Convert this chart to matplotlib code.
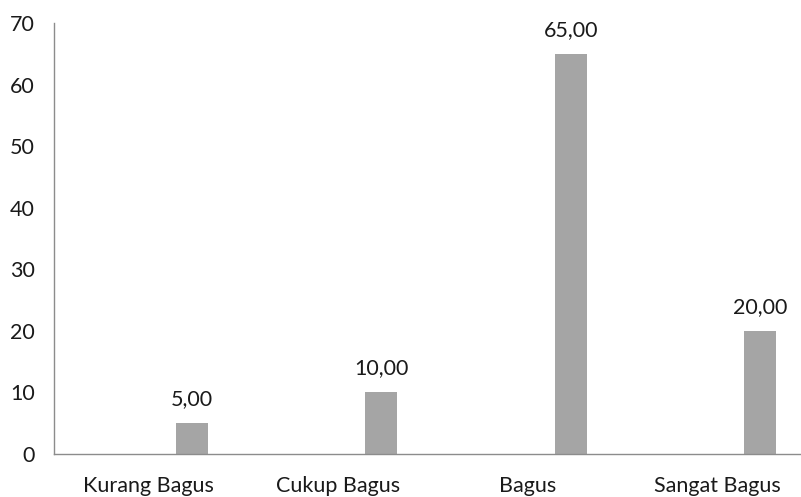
import matplotlib
matplotlib.use("Agg")
import matplotlib.pyplot as plt
import numpy as np

categories = ["Kurang Bagus", "Cukup Bagus", "Bagus", "Sangat Bagus"]
values = [5.00, 10.00, 65.00, 20.00]
y_ticks = [0, 10, 20, 30, 40, 50, 60, 70]

plt.rcParams['font.family'] = ['Lato', 'DejaVu Sans']

W, H = 801, 497
fig = plt.figure(figsize=(W / 100, H / 100), dpi=100)
left, right, top, bottom = 54, 812, 23, 454
ax = fig.add_axes([left / W, 1 - bottom / H, (right - left) / W, (bottom - top) / H])

x = np.arange(len(categories))
offset = 0.228
bars = ax.bar(x + offset, values, width=0.169, color="#A5A5A5")

for xi, v in zip(x, values):
    ax.annotate(f"{v:.2f}".replace(".", ","), (xi + offset, v), xytext=(0, 10),
                textcoords="offset points", ha="center", va="bottom",
                fontsize=15.5, color="#1a1a1a")

ax.set_xlim(-0.5, len(categories) - 0.5)
ax.set_ylim(0, 70)
ax.set_yticks(y_ticks)
ax.set_yticklabels([str(t) for t in y_ticks])
ax.set_xticks(x)
ax.set_xticklabels(categories)
ax.tick_params(axis="both", length=0, labelsize=15.5, colors="#1a1a1a")
ax.tick_params(axis="y", pad=14)
ax.tick_params(axis="x", pad=16)

for s in ["top", "right"]:
    ax.spines[s].set_visible(False)
for s in ["left", "bottom"]:
    ax.spines[s].set_color("#8C8C8C")
    ax.spines[s].set_linewidth(1.0)

fig.savefig("out.png", dpi=100)
